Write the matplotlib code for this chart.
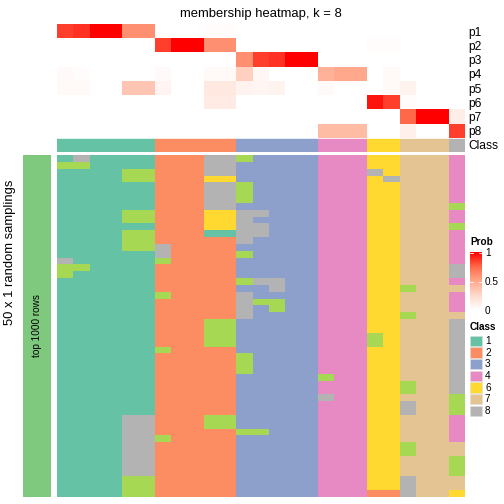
import matplotlib
matplotlib.use("Agg")
import matplotlib.pyplot as plt
import numpy as np
from matplotlib.colors import LinearSegmentedColormap, to_rgb
from matplotlib.patches import Rectangle

plt.rcParams['font.family'] = ['Liberation Sans', 'DejaVu Sans']

# membership probabilities, one list per row, 25 samples
prob_rows = ['p1', 'p2', 'p3', 'p4', 'p5', 'p6', 'p7', 'p8']
p1 = [0.85, 0.88, 1.0, 1.0, 0.6, 0.6, 0, 0, 0, 0.02, 0.02, 0, 0, 0, 0, 0, 0, 0, 0, 0, 0, 0, 0, 0, 0]
p2 = [0, 0, 0, 0, 0, 0, 0.85, 1.0, 1.0, 0.6, 0.6, 0, 0, 0, 0, 0, 0, 0, 0, 0.02, 0.02, 0, 0, 0, 0]
p3 = [0, 0, 0, 0, 0, 0, 0, 0, 0, 0, 0, 0.6, 0.85, 0.88, 1.0, 1.0, 0, 0, 0, 0, 0, 0, 0, 0, 0]
p4 = [0.03, 0.02, 0, 0, 0, 0, 0.03, 0, 0, 0.04, 0.04, 0.3, 0.05, 0, 0, 0, 0.45, 0.5, 0.5, 0, 0.04, 0, 0, 0, 0]
p5 = [0.04, 0.04, 0, 0, 0.35, 0.35, 0.07, 0, 0, 0.15, 0.15, 0.08, 0.06, 0.08, 0, 0, 0.03, 0, 0, 0, 0.04, 0.08, 0, 0, 0]
p6 = [0, 0, 0, 0, 0, 0, 0, 0, 0, 0.13, 0.13, 0, 0, 0, 0, 0, 0, 0, 0, 0.95, 0.85, 0.02, 0, 0, 0]
p7 = [0, 0, 0, 0, 0, 0, 0, 0, 0, 0, 0, 0, 0, 0, 0, 0, 0, 0, 0, 0, 0, 0.75, 1.0, 1.0, 0.12]
p8 = [0, 0, 0, 0, 0, 0, 0, 0, 0, 0, 0, 0, 0, 0, 0, 0, 0.4, 0.4, 0.4, 0, 0, 0.1, 0, 0, 0.85]

final_class = [1, 1, 1, 1, 1, 1, 2, 2, 2, 2, 2, 3, 3, 3, 3, 3, 4, 4, 4, 6, 6, 7, 7, 7, 8]

# class found in each of the 50 random samplings (rows) for each sample (columns)
samplings = [
    "181111 22288 53333 444 66 777 4",
    "551111 22288 33333 444 66 777 4",
    "111155 22288 33333 444 86 777 4",
    "111155 22266 33333 444 68 777 4",
    "111111 22288 53333 444 66 777 4",
    "111111 22288 53333 444 66 777 4",
    "111111 22288 53333 444 66 777 4",
    "111111 22288 33333 444 66 777 5",
    "111155 22266 88333 444 66 777 4",
    "111155 22266 83333 444 66 777 4",
    "111111 22266 88333 444 66 777 5",
    "111155 22211 88333 444 66 777 4",
    "111155 22222 83333 444 66 777 4",
    "111155 82222 33333 444 66 777 4",
    "111111 82222 53333 444 66 777 4",
    "811111 52222 33333 444 66 777 4",
    "551111 22222 33333 444 66 777 8",
    "511111 22222 33333 444 66 777 8",
    "111111 22222 58833 444 66 777 4",
    "111111 22222 33833 444 66 577 7",
    "111111 52222 83333 444 66 777 4",
    "111111 22222 85533 444 66 777 4",
    "111111 22222 83533 444 66 777 4",
    "111111 22222 83333 444 66 577 7",
    "111111 22255 33333 444 66 777 8",
    "111111 22255 33333 444 66 777 8",
    "111111 22255 33333 444 56 777 8",
    "111111 22255 33333 444 56 777 8",
    "111111 52222 33333 444 66 777 8",
    "111111 22222 53333 444 66 777 8",
    "111111 22222 53333 444 66 777 8",
    "111111 22222 53333 444 66 777 8",
    "111111 22222 33333 544 66 777 8",
    "111111 22222 33333 444 66 577 8",
    "111111 22222 33333 444 66 577 8",
    "111111 22222 33333 844 66 777 5",
    "111111 22222 33333 444 66 877 5",
    "111111 22222 33333 444 66 877 5",
    "111188 22255 33333 444 66 777 4",
    "111188 22255 33333 444 66 777 4",
    "111188 22222 55333 444 66 777 4",
    "111188 52222 33333 444 66 777 4",
    "111188 22222 33333 444 66 577 7",
    "111188 22222 33333 444 66 577 7",
    "111188 22222 33333 444 66 777 5",
    "111188 22222 33333 444 66 777 5",
    "111188 22222 33333 444 66 777 5",
    "111155 22222 33333 444 66 877 7",
    "111155 22222 33333 444 66 877 7",
    "111155 22222 33333 444 22 877 6",
]

class_colors = {1: '#66C2A5', 2: '#FC8D62', 3: '#8DA0CB', 4: '#E78AC3',
                5: '#A6D854', 6: '#FFD92F', 7: '#E5C494', 8: '#B3B3B3'}
legend_classes = [1, 2, 3, 4, 6, 7, 8]
prob_ticks = [0, 0.5, 1]

W = H = 504
fig = plt.figure(figsize=(7, 7), dpi=72)


def px_axes(x0, y0, x1, y1):
    return fig.add_axes([x0 / W, 1 - y1 / H, (x1 - x0) / W, (y1 - y0) / H])


cmap = LinearSegmentedColormap.from_list(
    'prob', [(0, '#FFFFFF'), (0.25, '#FFD9CC'), (0.5, '#FFA98C'),
             (0.75, '#FF6A4A'), (1, '#FF0000')])

# top heatmap: probabilities + class row
probs = np.array([p1, p2, p3, p4, p5, p6, p7, p8])
top = cmap(probs)[:, :, :3]
class_row = np.array([[to_rgb(class_colors[c]) for c in final_class]])
top = np.vstack([top, class_row])

ax_top = px_axes(57, 24, 465, 152)
ax_top.imshow(top, aspect='auto', interpolation='nearest')
ax_top.set_xticks([])
ax_top.yaxis.tick_right()
ax_top.set_yticks(range(9))
ax_top.set_yticklabels(prob_rows + ['Class'], fontsize=12)
ax_top.tick_params(axis='y', length=0, pad=3)
for s in ax_top.spines.values():
    s.set_visible(False)
ax_top.axhline(7.5, color='white', lw=0.8)
ax_top.set_title('membership heatmap, k = 8', fontsize=13, pad=7)

# bottom heatmap: random samplings
rows = ["".join(r.split()) for r in samplings]
bottom = np.array([[to_rgb(class_colors[int(ch)]) for ch in r] for r in rows])
ax_bot = px_axes(57, 155, 465, 497)
ax_bot.imshow(bottom, aspect='auto', interpolation='nearest')
ax_bot.set_xticks([])
ax_bot.set_yticks([])
for s in ax_bot.spines.values():
    s.set_visible(False)

# left annotation bar
ax_bar = px_axes(23, 155, 51, 497)
ax_bar.set_facecolor('#7FC97F')
ax_bar.set_xticks([])
ax_bar.set_yticks([])
for s in ax_bar.spines.values():
    s.set_visible(False)
ax_bar.text(0.5, 0.5, 'top 1000 rows', rotation=90, ha='center', va='center',
            fontsize=10, transform=ax_bar.transAxes)

fig.text(10 / W, 1 - 252 / H, '50 x 1 random samplings', rotation=90,
         ha='center', va='center', fontsize=13)

# Prob legend
fig.text(470 / W, 1 - 242 / H, 'Prob', fontsize=10, fontweight='bold',
         ha='left', va='center')
ax_cb = px_axes(470, 252, 482, 310)
grad = np.linspace(0, 1, 100).reshape(-1, 1)
ax_cb.imshow(grad, aspect='auto', cmap=cmap, origin='lower', extent=[0, 1, 0, 1])
ax_cb.set_xticks([])
ax_cb.yaxis.tick_right()
ax_cb.set_yticks(prob_ticks)
ax_cb.set_yticklabels(['0', '0.5', '1'], fontsize=10)
ax_cb.tick_params(axis='y', length=0, pad=3)
ax_cb.set_ylim(0, 1)
for s in ax_cb.spines.values():
    s.set_visible(False)
for t in prob_ticks[1:]:
    ax_cb.plot([0, 0.25], [t - 0.02, t - 0.02], color='white', lw=0.8)
    ax_cb.plot([0.75, 1], [t - 0.02, t - 0.02], color='white', lw=0.8)

# Class legend
ov = fig.add_axes([0, 0, 1, 1])
ov.set_xlim(0, W)
ov.set_ylim(H, 0)
ov.axis('off')
ov.text(470, 327, 'Class', fontsize=10, fontweight='bold', ha='left', va='center')
for i, c in enumerate(legend_classes):
    y0 = 335.5 + 11.67 * i
    ov.add_patch(Rectangle((470, y0), 11.5, 10.5, facecolor=class_colors[c],
                           edgecolor='#DDDDDD', lw=0.5))
    ov.text(485, y0 + 5.5, str(c), fontsize=10, ha='left', va='center')

fig.savefig('out.png', dpi=72)
